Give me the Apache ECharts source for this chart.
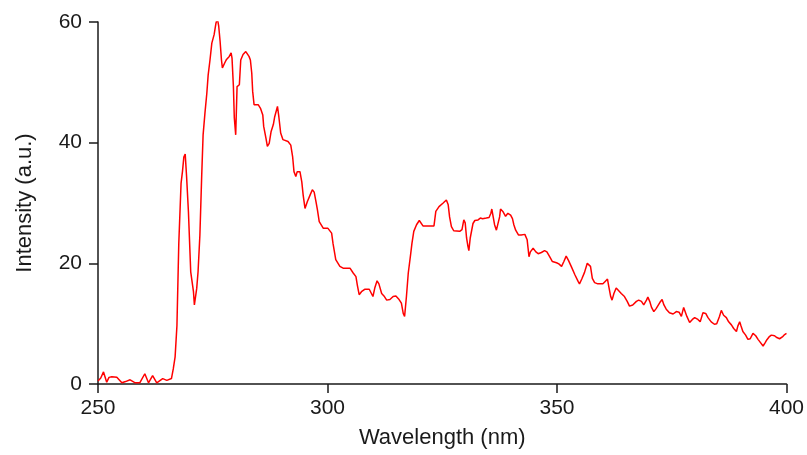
<!DOCTYPE html>
<html>
<head>
<meta charset="utf-8">
<script src="https://cdn.jsdelivr.net/npm/echarts@6/dist/echarts.min.js"></script>
<style>html,body{margin:0;padding:0;background:#fff}#c{width:807px;height:455px}</style>
</head>
<body>
<div id="c"></div>
<script>
const wavelength = [
250.0,250.6,251.2,251.9,252.4,253.0,254.1,255.2,256.0,257.0,258.1,259.1,260.2,261.0,261.9,262.8,264.1,265.0,266.0,
266.4,266.8,267.2,267.6,268.1,268.4,268.7,269.0,269.3,269.7,270.2,270.8,271.0,271.5,271.8,272.2,272.6,272.9,273.3,273.7,
274.0,274.4,274.8,275.3,275.7,276.0,276.3,276.6,276.9,277.1,277.6,278.0,278.6,279.0,279.2,279.5,279.7,280.0,280.3,280.8,
281.1,281.6,282.2,282.9,283.2,283.5,283.7,284.0,284.9,285.4,285.9,286.1,286.6,286.9,287.3,287.7,288.2,288.5,288.9,289.1,
289.4,289.8,290.3,291.4,292.0,292.4,292.7,293.1,293.4,294.0,294.4,294.7,295.1,295.6,296.2,296.7,297.1,297.5,297.8,298.2,
299.1,300.1,300.9,301.2,301.8,302.7,303.4,304.9,305.6,306.2,306.5,306.9,307.4,308.1,309.1,309.9,310.3,310.8,311.2,311.8,
312.3,312.9,313.6,314.3,314.9,315.6,316.1,316.5,316.8,317.2,317.6,318.1,318.4,318.8,319.4,320.0,320.8,323.2,323.6,324.3,
325.2,325.9,326.3,326.6,327.0,327.5,328.8,329.3,329.7,330.0,330.3,330.6,330.8,331.1,331.4,331.7,332.1,332.8,333.3,333.8,
334.1,334.6,335.2,335.6,335.8,336.1,336.4,336.8,337.2,337.5,337.7,338.2,338.8,339.3,339.9,340.3,340.6,341.0,341.6,342.2,
342.6,343.0,343.5,343.7,343.9,344.2,344.8,345.4,345.9,346.6,347.3,347.8,348.4,349.0,349.9,350.4,351.0,351.5,352.0,352.5,
353.1,353.9,354.6,354.9,355.4,356.0,356.6,357.0,357.3,357.7,358.2,358.9,360.0,360.5,361.0,361.3,361.7,362.0,362.4,362.9,
363.4,364.0,364.7,365.3,365.8,366.5,367.3,367.8,368.4,368.9,369.5,369.8,370.2,370.6,371.1,371.6,372.4,372.9,373.3,373.8,
374.5,375.3,376.0,376.6,377.1,377.6,378.0,378.3,378.9,379.5,380.0,380.7,381.2,381.8,382.4,382.9,383.6,384.3,384.8,385.4,
385.8,386.3,386.9,387.4,388.0,388.5,389.1,389.4,389.8,390.1,390.5,391.1,391.6,392.1,392.7,393.3,393.8,394.3,394.9,395.4,
395.7,396.2,396.7,397.4,397.9,398.5,399.1,399.6,400.0
];
const intensity = [
0.5,1.0,2.0,0.3,1.1,1.2,1.1,0.2,0.4,0.7,0.2,0.2,1.7,0.2,1.4,0.2,0.9,0.6,0.9,
2.5,4.5,9.7,23.3,33.3,35.2,37.6,38.1,34.4,28.6,18.6,15.3,13.1,15.8,18.6,24.7,34.7,41.3,44.9,48.1,
51.2,53.7,56.5,57.9,59.8,60.6,59.3,56.8,53.7,52.4,53.2,53.8,54.3,54.9,54.0,49.3,44.1,41.3,49.3,49.6,
53.7,54.6,55.1,54.3,53.7,51.5,48.5,46.3,46.3,45.7,44.6,42.7,40.7,39.4,39.9,41.8,43.0,44.3,44.6,46.0,
44.3,41.6,40.5,40.2,39.6,37.7,35.2,34.4,35.2,35.2,33.5,31.3,29.1,30.2,31.3,32.2,31.8,30.2,28.9,26.9,
25.8,25.8,25.0,23.3,20.6,19.5,19.2,19.2,18.4,17.8,16.4,14.8,15.3,15.7,15.7,14.5,15.9,17.1,16.6,15.0,
14.6,13.9,14.0,14.5,14.6,14.0,13.4,11.7,11.2,14.5,18.4,21.4,23.3,25.3,26.4,27.1,26.2,26.2,28.6,29.4,
30.0,30.5,29.7,27.7,26.1,25.4,25.3,25.6,27.2,26.7,24.2,22.8,22.1,24.2,24.4,26.6,27.1,27.2,27.5,27.4,
27.7,27.5,27.6,28.3,29.0,27.7,26.4,25.5,25.7,27.7,29.0,28.6,27.8,28.3,28.0,27.4,26.4,25.5,24.7,24.7,
24.9,24.8,23.9,22.5,21.1,21.9,22.5,21.9,21.6,21.8,22.1,21.9,21.1,20.3,20.1,19.9,19.5,20.3,21.2,20.5,
19.5,18.1,17.0,16.6,17.4,18.5,20.0,20.3,19.5,17.5,16.8,16.6,16.6,17.0,17.4,16.1,14.5,13.9,15.0,15.9,
15.5,15.0,14.5,13.7,12.9,13.1,13.7,13.9,13.7,13.1,13.9,14.4,13.7,12.7,12.0,12.5,13.5,14.0,13.1,12.4,
11.8,11.6,12.0,11.9,11.2,12.7,12.8,11.2,10.2,10.7,11.0,10.7,10.3,11.8,11.7,11.0,10.3,9.9,10.0,11.2,
12.2,11.4,11.0,10.3,9.8,9.2,8.7,9.6,10.3,9.6,8.7,8.1,7.4,7.5,8.4,8.0,7.4,6.9,6.3,6.9,
7.3,7.8,8.1,8.0,7.7,7.5,7.8,8.2,8.4
];
const xTicks = {min: 250, max: 400, interval: 50};
const yTicks = {min: 0, max: 60, interval: 20};
const xTitle = 'Wavelength (nm)';
const yTitle = 'Intensity (a.u.)';

const chart = echarts.init(document.getElementById('c'), null, {renderer: 'canvas'});
const font = 'Liberation Sans, Arial, sans-serif';
const axisCommon = {
  axisLine: {show: true, lineStyle: {color: '#1a1a1a', width: 1.5}},
  axisTick: {show: true, inside: false, length: 9, lineStyle: {color: '#1a1a1a', width: 1.5}},
  splitLine: {show: false},
  nameLocation: 'middle',
  nameTextStyle: {color: '#1a1a1a', fontFamily: font, fontSize: 22},
  axisLabel: {color: '#1a1a1a', fontFamily: font, fontSize: 21}
};
chart.setOption({
  animation: false,
  backgroundColor: '#fff',
  grid: {left: 98, right: 20, top: 22, bottom: 71, containLabel: false},
  xAxis: Object.assign({}, axisCommon, {
    type: 'value', min: xTicks.min, max: xTicks.max, interval: xTicks.interval,
    name: xTitle, nameGap: 43,
    axisLabel: Object.assign({}, axisCommon.axisLabel, {margin: 14})
  }),
  yAxis: Object.assign({}, axisCommon, {
    type: 'value', min: yTicks.min, max: yTicks.max, interval: yTicks.interval,
    name: yTitle, nameGap: 62,
    axisLabel: Object.assign({}, axisCommon.axisLabel, {margin: 16})
  }),
  series: [{
    type: 'line',
    data: wavelength.map((w, i) => [w, intensity[i]]),
    showSymbol: false,
    lineStyle: {color: '#ff0000', width: 1.5},
    itemStyle: {color: '#ff0000'}
  }]
});
</script>
</body>
</html>
